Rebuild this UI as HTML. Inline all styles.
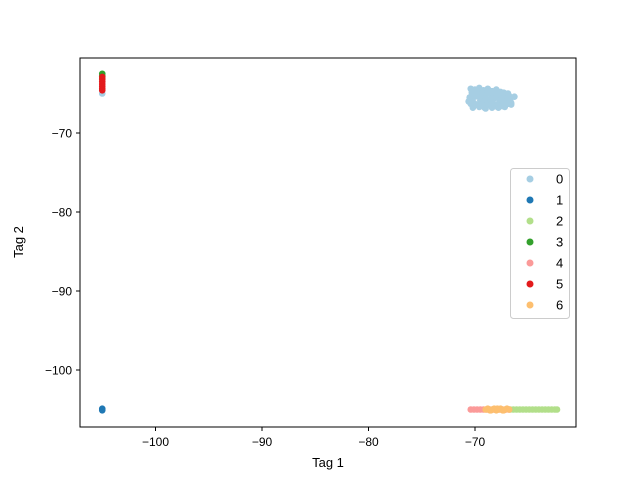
<!DOCTYPE html>
<html><head><meta charset="utf-8"><style>
body{margin:0;background:#fff;}
svg{display:block;font-family:"Liberation Sans","DejaVu Sans",sans-serif;}
</style></head><body>
<svg id="chart" width="640" height="480">
<rect x="0" y="0" width="640" height="480" fill="#fff"/>
<g id="points"></g>
<rect x="80" y="58" width="496" height="369" fill="none" stroke="#000" stroke-width="1"/>
<g id="axes"></g>
<text x="328" y="467" font-size="13" text-anchor="middle">Tag 1</text>
<text x="23" y="242" font-size="13" text-anchor="middle" transform="rotate(-90 23 242)">Tag 2</text>
<g id="legend">
<rect x="510.5" y="168.5" width="59" height="150" rx="3" fill="#fff" fill-opacity="0.8" stroke="#ccc"/>
</g>
</svg>
<script>
const labels=["0","1","2","3","4","5","6"];
const colors=["#a6cee3","#1f78b4","#b2df8a","#33a02c","#fb9a99","#e31a1c","#fdbf6f"];
const xs0=[-70.4,-70.0,-69.6,-69.2,-68.8,-68.4,-68.0,-67.6,-67.2,-66.8,-70.2,-69.8,-69.4,-69.0,-68.6,-68.2,-67.8,-67.4,-67.0,-70.6,-70.1,-69.5,-68.9,-68.3,-67.7,-67.1,-66.7,-66.3,-69.7,-69.1,-68.5,-67.9,-67.3,-70.3,-69.3,-68.1,-67.5,
 -70.5,-70.0,-69.5,-69.0,-68.5,-68.0,-67.5,-67.0,-66.6,-70.3,-69.8,-69.3,-68.8,-68.3,-67.8,-67.3,-66.9,-70.4,-69.9,-69.4,-68.9,-68.4,-67.9,-67.4,-66.9,-70.2,-69.6,-69.0,-68.4,-67.8,-67.2,-66.6,-105];
const ys0=[-64.4,-64.5,-64.3,-64.6,-64.4,-64.7,-64.5,-64.8,-65.0,-65.3,-65.2,-65.0,-65.1,-65.3,-65.0,-65.2,-65.4,-65.3,-65.6,-66.0,-66.2,-65.9,-66.1,-65.8,-66.0,-66.1,-65.9,-65.4,-66.5,-66.8,-66.5,-66.4,-66.2,-65.6,-65.8,-66.6,-65.7,
 -65.5,-65.4,-65.6,-65.5,-65.7,-65.5,-65.6,-65.4,-66.2,-64.9,-64.8,-64.9,-64.9,-64.8,-65.0,-64.9,-65.0,-66.3,-66.4,-66.4,-66.5,-66.3,-66.5,-66.6,-66.3,-66.8,-66.7,-66.9,-66.8,-66.8,-66.7,-66.4,-65.0];
const xs1=[-105,-105,-105];
const ys1=[-105,-104.9,-105.1];
const xs2=[-66.7,-66.4,-66.1,-65.8,-65.5,-65.2,-64.9,-64.6,-64.3,-64.0,-63.7,-63.4,-63.1,-62.8,-62.5,-62.3];
const ys2=[-105,-105,-105,-105,-105,-105,-105,-105,-105,-105,-105,-105,-105,-105,-105,-105];
const xs3=[-105,-105,-105];
const ys3=[-62.5,-62.8,-63.1];
const xs4=[-70.4,-70.1,-69.8,-69.5,-69.2,-68.9,-68.6,-68.3,-68.0,-67.7,-67.4,-67.1,-66.8];
const ys4=[-105,-105,-105,-105,-105,-105,-105,-105,-105,-105,-105,-105,-105];
const xs5=[-105,-105,-105,-105,-105,-105,-105];
const ys5=[-62.9,-63.2,-63.5,-63.8,-64.1,-64.4,-64.6];
const xs6=[-69.0,-68.8,-68.6,-68.4,-68.2,-68.0,-67.8,-67.6,-67.4,-67.2,-67.0,-66.8,-68.5,-67.9,-67.3];
const ys6=[-105,-104.9,-105.1,-105,-104.9,-105.1,-105,-104.9,-105.1,-105,-104.9,-105,-105.1,-104.9,-105.1];
const xTicks=[-100,-90,-80,-70];
const yTicks=[-70,-80,-90,-100];
const X=v=>475+(v+70)*10.65;
const Y=v=>133-(v+70)*7.9;
const NS="http://www.w3.org/2000/svg";
const pts=document.getElementById('points');
const series=[[xs0,ys0],[xs1,ys1],[xs2,ys2],[xs3,ys3],[xs4,ys4],[xs5,ys5],[xs6,ys6]];
series.forEach((s,k)=>{
  s[0].forEach((x,i)=>{
    const c=document.createElementNS(NS,'circle');
    c.setAttribute('cx',X(x));c.setAttribute('cy',Y(s[1][i]));c.setAttribute('r',3.3);
    c.setAttribute('fill',colors[k]);
    
    
    pts.appendChild(c);
  });
});
const ax=document.getElementById('axes');
xTicks.forEach(t=>{
  const l=document.createElementNS(NS,'line');
  l.setAttribute('x1',X(t));l.setAttribute('x2',X(t));l.setAttribute('y1',427);l.setAttribute('y2',431);l.setAttribute('stroke','#000');
  
  
  ax.appendChild(l);
  const tx=document.createElementNS(NS,'text');
  tx.setAttribute('x',X(t));tx.setAttribute('y',446);tx.setAttribute('font-size','12');tx.setAttribute('text-anchor','middle');
  tx.textContent='\u2212'+Math.abs(t);
  
  
  ax.appendChild(tx);
});
yTicks.forEach(t=>{
  const l=document.createElementNS(NS,'line');
  l.setAttribute('x1',76);l.setAttribute('x2',80);l.setAttribute('y1',Y(t));l.setAttribute('y2',Y(t));l.setAttribute('stroke','#000');
  
  
  ax.appendChild(l);
  const tx=document.createElementNS(NS,'text');
  tx.setAttribute('x',72);tx.setAttribute('y',Y(t)+4.5);tx.setAttribute('font-size','12');tx.setAttribute('text-anchor','end');
  tx.textContent='\u2212'+Math.abs(t);
  
  
  ax.appendChild(tx);
});
const lg=document.getElementById('legend');
labels.forEach((lab,k)=>{
  const y=179+k*21;
  const c=document.createElementNS(NS,'circle');
  c.setAttribute('cx',530);c.setAttribute('cy',y);c.setAttribute('r',3.5);c.setAttribute('fill',colors[k]);
  
  
  lg.appendChild(c);
  const t=document.createElementNS(NS,'text');
  t.setAttribute('x',556);t.setAttribute('y',y+4.5);t.setAttribute('font-size','13');
  t.textContent=lab;
  
  
  lg.appendChild(t);
});
</script>
</body></html>
